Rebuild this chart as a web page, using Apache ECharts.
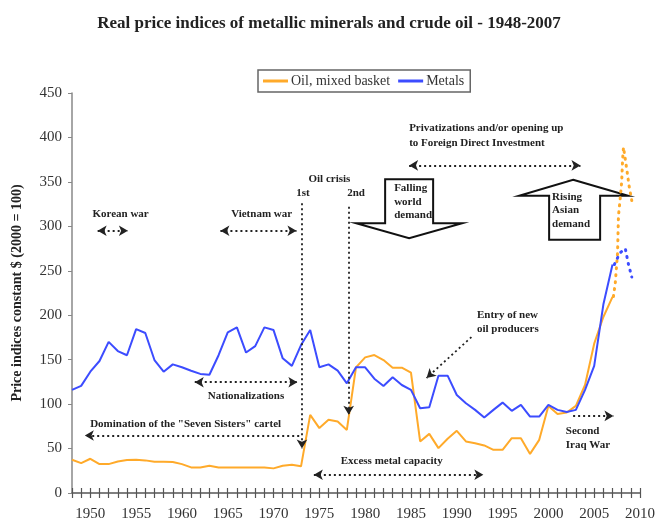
<!DOCTYPE html>
<html>
<head>
<meta charset="utf-8">
<script src="https://cdn.jsdelivr.net/npm/echarts@6/dist/echarts.min.js"></script>
<style>
  html, body { margin: 0; padding: 0; background: #fff; }
  #chart { width: 658px; height: 523px; }
</style>
</head>
<body>
<div id="chart"></div>
<script>
// yearly real price indices, 2000 = 100
const years = [];
for (let y = 1948; y <= 2007; y++) years.push(y);

const oil = [37.4, 33.6, 38.5, 32.5, 32.5, 35.5, 37, 37.4, 36.7, 35.1,
    35.1, 34.8, 32.5, 28.8, 28.8, 30.6, 28.8, 28.8, 28.8, 28.8,
    28.8, 28.8, 27.7, 30.6, 31.8, 30, 87.9, 73, 82.3, 80.4,
    71, 141.4, 152.6, 155.2, 149.6, 141, 141, 135.4, 58, 66.5,
    50.5, 61, 69.9, 58, 56, 53.5, 48.6, 48.6, 61.7, 61.7,
    44, 59.8, 98, 89, 90.5, 98, 121.5, 168, 198, 220.6];

const metals = [116, 120.5, 136.5, 148.5, 170, 159.7, 155, 184.4, 180, 149.6,
    136.5, 144.7, 141.4, 137.6, 134, 133, 155, 180.7, 186.3, 158,
    165.3, 186.3, 183.3, 151.5, 143, 166.4, 183.3, 141.4, 144.7, 137.6,
    123.4, 141.4, 141.4, 128.6, 120.4, 130.2, 121.5, 116, 95.4, 96.5,
    132, 132, 110.3, 101, 93.5, 84.9, 93.5, 101.7, 92.4, 99.1,
    86, 86, 99.1, 93.5, 91.2, 93.5, 116, 143, 212, 257];

// dotted 2007-2008 extensions
const oilRecent = [[2007.1, 221], [2007.3, 236], [2007.55, 270], [2007.65, 312], [2007.8, 327],
    [2008.0, 350], [2008.1, 375], [2008.2, 389], [2008.6, 361], [2008.8, 346], [2009.1, 329]];
const metalsRecent = [[2007.2, 257], [2007.8, 270], [2008.4, 275], [2008.7, 259], [2009.1, 243]];

const seriesNames = ['Oil, mixed basket', 'Metals'];
const colors = ['#ffaa2a', '#3c4cff'];

// annotation arrows: [from, to, arrow at start, arrow at end]
const arrows = [
    [[1950.8, 295], [1954.1, 295], true, true],      // Korean war
    [[1964.2, 295], [1972.5, 295], true, true],      // Vietnam war
    [[1961.4, 124.6], [1972.6, 124.6], true, true],  // Nationalizations
    [[1972.8, 64.7], [1949.4, 64.7], false, true],   // Seven Sisters
    [[1974.4, 20.5], [1992.9, 20.5], true, true],    // Excess metal capacity
    [[1984.8, 368.5], [2003.5, 368.5], true, true],  // Privatizations
    [[2002.7, 86.7], [2007.1, 86.7], false, true],   // Second Iraq War
    [[1973.1, 326], [1973.1, 50], false, true],      // 1st oil crisis
    [[1978.2, 322], [1978.2, 88], false, true],      // 2nd oil crisis
    [[1991.6, 175.4], [1986.7, 129.4], false, true]  // Entry of new producers
];

// annotation texts: [text, [year, value], align]
const notes = [
    ['Korean war', [1953.3, 313.5], 'center'],
    ['Vietnam war', [1968.7, 313.5], 'center'],
    ['Oil crisis', [1976.1, 352.7], 'center'],
    ['1st', [1973.2, 337], 'center'],
    ['2nd', [1979.0, 337], 'center'],
    ['Privatizations and/or opening up', [1984.8, 410], 'left'],
    ['to Foreign Direct Investment', [1984.8, 394], 'left'],
    ['Entry of new', [1992.2, 200.3], 'left'],
    ['oil producers', [1992.2, 184.6], 'left'],
    ['Nationalizations', [1967.0, 108.4], 'center'],
    ['Domination of the "Seven Sisters" cartel', [1960.4, 77.8], 'center'],
    ['Excess metal capacity', [1982.9, 36.3], 'center'],
    ['Second', [2001.9, 70], 'left'],
    ['Iraq War', [2001.9, 53.4], 'left']
];

const serif = 'Liberation Serif';
const noteFont = 'bold 11px "Liberation Serif"';

const chart = echarts.init(document.getElementById('chart'));

const xAxisBase = {
    type: 'value',
    min: 1948,
    max: 2010,
    interval: 1,
    position: 'bottom',
    splitLine: { show: false }
};

chart.setOption({
    animation: false,
    title: {
        text: 'Real price indices of metallic minerals and crude oil - 1948-2007',
        left: 'center',
        top: 10,
        textStyle: { fontFamily: serif, fontWeight: 'bold', fontSize: 17, color: '#222' }
    },
    legend: {
        data: seriesNames,
        left: 258,
        top: 70,
        padding: [4, 6, 4, 5],
        itemGap: 8,
        itemWidth: 25,
        itemHeight: 3,
        icon: 'rect',
        borderColor: '#666',
        borderWidth: 1.5,
        textStyle: { fontFamily: serif, fontSize: 14, color: '#333', padding: [0, 0, 0, -2] }
    },
    grid: { left: 72, right: 15, top: 93, bottom: 30 },
    xAxis: [
        Object.assign({}, xAxisBase, {
            axisLine: { lineStyle: { color: '#555', width: 1.5 } },
            axisTick: { length: 5, lineStyle: { color: '#555', width: 1.2 } },
            axisLabel: {
                margin: 14,
                fontFamily: serif,
                fontSize: 15,
                color: '#333',
                formatter: v => (v % 5 === 0 ? String(v) : '')
            }
        }),
        Object.assign({}, xAxisBase, {
            axisLine: { show: false },
            axisTick: { inside: true, length: 5, lineStyle: { color: '#555', width: 1.2 } },
            axisLabel: { show: false }
        })
    ],
    yAxis: {
        type: 'value',
        min: 0,
        max: 450,
        interval: 50,
        name: 'Price indices constant $ (2000 = 100)',
        nameLocation: 'middle',
        nameGap: 48,
        nameTextStyle: { fontFamily: serif, fontWeight: 'bold', fontSize: 14, color: '#222' },
        splitLine: { show: false },
        axisLine: { show: true, lineStyle: { color: '#888', width: 1.5 } },
        axisTick: { show: true, length: 4, lineStyle: { color: '#888' } },
        axisLabel: { margin: 10, fontFamily: serif, fontSize: 15, color: '#333' }
    },
    series: [
        {
            name: seriesNames[0],
            type: 'line',
            data: years.map((y, i) => [y, oil[i]]),
            showSymbol: false,
            color: colors[0],
            lineStyle: { width: 2 },
            z: 3
        },
        {
            name: seriesNames[1],
            type: 'line',
            data: years.map((y, i) => [y, metals[i]]),
            showSymbol: false,
            color: colors[1],
            lineStyle: { width: 2 },
            z: 4
        },
        {
            name: 'oil-recent',
            type: 'line',
            data: oilRecent,
            showSymbol: false,
            color: colors[0],
            lineStyle: { width: 3, type: [1, 6], cap: 'round' }
        },
        {
            name: 'metals-recent',
            type: 'line',
            data: metalsRecent,
            showSymbol: false,
            color: colors[1],
            lineStyle: { width: 3, type: [1, 6], cap: 'round' }
        },
        {
            name: 'arrows',
            type: 'line',
            data: [],
            silent: true,
            markLine: {
                silent: true,
                animation: false,
                symbolSize: [8, 9],
                label: { show: false },
                lineStyle: { type: [2, 3], width: 1.8, color: '#222' },
                data: arrows.map(a => [
                    { coord: a[0], symbol: a[2] ? 'arrow' : 'none' },
                    { coord: a[1], symbol: a[3] ? 'arrow' : 'none' }
                ])
            }
        }
    ]
});

// text notes and big block arrows, placed through the data coordinates
const toPx = p => chart.convertToPixel({ seriesIndex: 0 }, p);
const graphics = notes.map(n => {
    const p = toPx(n[1]);
    return {
        type: 'text',
        x: p[0],
        y: p[1],
        silent: true,
        style: {
            text: n[0],
            align: n[2],
            verticalAlign: 'middle',
            font: noteFont,
            fill: '#222'
        }
    };
});

function blockArrow(tip, pts, lines, textOff) {
    const t = toPx(tip);
    graphics.push({
        type: 'polygon',
        silent: true,
        shape: { points: pts.map(q => [t[0] + q[0], t[1] + q[1]]) },
        style: { fill: '#fff', stroke: '#111', lineWidth: 2 }
    });
    lines.forEach((s, i) => {
        graphics.push({
            type: 'text',
            silent: true,
            x: t[0] + textOff[0],
            y: t[1] + textOff[1] + i * 13.5,
            style: { text: s, verticalAlign: 'middle', font: noteFont, fill: '#222' }
        });
    });
}

// falling world demand (down arrow), tip in data space
blockArrow([1984.8, 286.5],
    [[-24, -59], [24, -59], [24, -15], [53, -15], [0, 0], [-53, -15], [-24, -15]],
    ['Falling', 'world', 'demand'], [-15, -50]);
// rising Asian demand (up arrow)
blockArrow([2002.7, 352.4],
    [[0, 0], [55, 16], [27, 16], [27, 60], [-24, 60], [-24, 16], [-54, 16]],
    ['Rising', 'Asian', 'demand'], [-21, 17]);

chart.setOption({ graphic: graphics });
</script>
</body>
</html>
